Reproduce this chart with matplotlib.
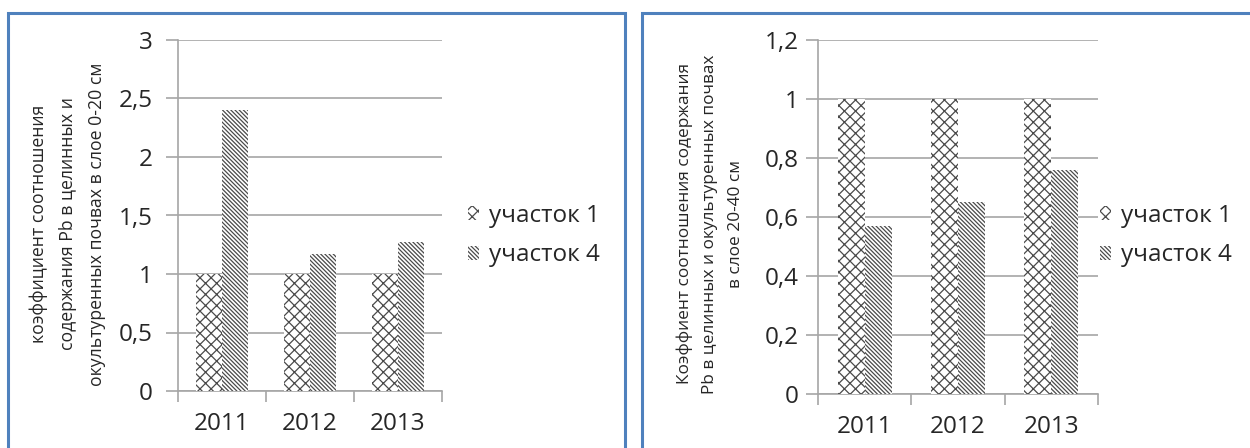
import numpy as np
import matplotlib
matplotlib.use("Agg")
import matplotlib.pyplot as plt
from matplotlib.patches import Rectangle, Patch
from matplotlib.ticker import FuncFormatter

# данные
years = ["2011", "2012", "2013"]
sect1_top = [1, 1, 1]          # слой 0-20 см
sect4_top = [2.4, 1.17, 1.27]
sect1_deep = [1, 1, 1]         # слой 20-40 см
sect4_deep = [0.57, 0.65, 0.76]
series_names = ["участок 1", "участок 4"]

label_top = "коэффициент соотношения\nсодержания Pb в целинных и\nокультуренных почвах в слое 0-20 см"
label_deep = "Коэффиент соотношения содержания\nPb в целинных и окультуренных почвах\nв слое 20-40 см"

W, H = 1250, 448
plt.rcParams['font.family'] = ['Open Sans', 'DejaVu Sans']
plt.rcParams['hatch.linewidth'] = 0.9
plt.rcParams['hatch.color'] = '#4a4a4a'

fig = plt.figure(figsize=(W / 100, H / 100), dpi=100)
frame_col = '#4F81BD'
grid_col = '#A6A6A6'
txt_col = '#262626'
hatches = ['xxx', '\\' * 8]

# рамки
fig.add_artist(Rectangle((8 / W, -0.1), (625 - 8) / W, 1.1 - 13 / H, transform=fig.transFigure,
                         fill=False, edgecolor=frame_col, lw=2.2))
fig.add_artist(Rectangle((642 / W, -0.1), 0.5, 1.1 - 13 / H, transform=fig.transFigure,
                         fill=False, edgecolor=frame_col, lw=2.2))


def fmt(v, pos):
    s = ('%.1f' % v).rstrip('0').rstrip('.')
    return s.replace('.', ',')


def draw(ax, s1, s4, ymax, ystep, ylabel, lab_size, lab_x, lab_sp, leg_x, ypad):
    x = np.arange(len(years))
    w = 0.29
    ax.bar(x - w / 2, s1, w, color='white', edgecolor='#4a4a4a', lw=0, hatch=hatches[0], zorder=3)
    ax.bar(x + w / 2, s4, w, color='white', edgecolor='#4a4a4a', lw=0, hatch=hatches[1], zorder=3)
    ax.set_xlim(-0.5, len(years) - 0.5)
    ax.set_ylim(0, ymax)
    ax.set_yticks(np.arange(0, ymax + ystep / 2, ystep))
    ax.yaxis.set_major_formatter(FuncFormatter(fmt))
    ax.grid(axis='y', color=grid_col, lw=1.2, zorder=0)
    ax.set_xticks(x)
    ax.set_xticklabels(years)
    ax.set_xticks(np.arange(-0.5, len(years)), minor=True)
    ax.tick_params(axis='x', which='major', length=0, pad=15, labelsize=17.5, colors=txt_col)
    ax.tick_params(axis='x', which='minor', length=8, color=grid_col, width=1.2)
    ax.tick_params(axis='y', length=9, color=grid_col, width=1.2, pad=ypad, labelsize=17.5, labelcolor=txt_col)
    for s in ['top', 'right']:
        ax.spines[s].set_visible(False)
    for s in ['left', 'bottom']:
        ax.spines[s].set_color(grid_col)
        ax.spines[s].set_linewidth(1.2)
    fig.text(lab_x, 0.5, ylabel, rotation=90, ha='center', va='center', multialignment='center',
             fontsize=lab_size, linespacing=lab_sp, color=txt_col)
    handles = [Patch(facecolor='white', edgecolor='#4a4a4a', lw=0, hatch=h) for h in hatches]
    ax.legend(handles, series_names, loc='center left', bbox_to_anchor=(leg_x, 1 - 235.5 / H),
              bbox_transform=fig.transFigure, frameon=False, fontsize=17.5, borderpad=0,
              borderaxespad=0, handlelength=0.45, handleheight=0.5, handletextpad=0.4,
              labelspacing=0.65, labelcolor=txt_col)


ax1 = fig.add_axes([178 / W, (H - 391) / H, 264 / W, 351 / H])
draw(ax1, sect1_top, sect4_top, 3, 0.5, label_top, 12.7, 68 / W, 1.8, 468 / W, 9)

ax2 = fig.add_axes([818 / W, (H - 394) / H, 280 / W, 354 / H])
draw(ax2, sect1_deep, sect4_deep, 1.2, 0.2, label_deep, 12.4, 710 / W, 1.8, 1100 / W, 5)

fig.savefig('out.png', dpi=100)
